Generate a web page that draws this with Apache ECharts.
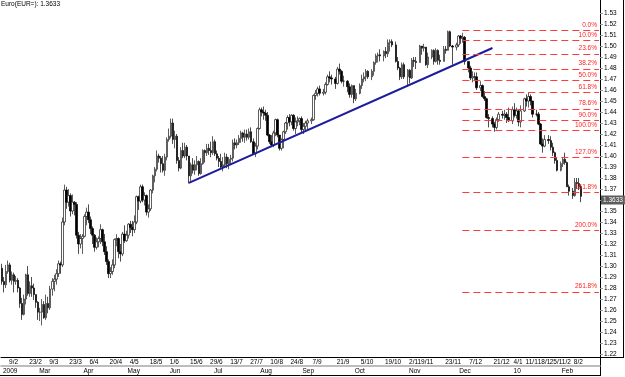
<!DOCTYPE html>
<html>
<head>
<meta charset="utf-8">
<title>Euro(EUR=)</title>
<script src="https://cdn.jsdelivr.net/npm/echarts@6/dist/echarts.min.js"></script>
<style>
  html, body { margin: 0; padding: 0; background: #fff; }
  #chart { width: 625px; height: 377px; }
</style>
</head>
<body>
<div id="chart"></div>
<script>
// calendar of the bars: weekdays, plus the short Sunday sessions from Sep 2009
var firstDay = '2009-02-04';
var lastDay = '2010-02-12';
var sundaySessionsFrom = '2009-09-06';
var holidays = ['2009-12-25', '2010-01-01'];
var padSlots = 9;

// daily EUR= prices, one value per trading day, month by month
var opens = [
  1.2980,1.2860,1.2830,1.2950,1.3010,1.2870,1.2920,1.2860,1.2870,1.2800,1.2660,1.2560,1.2700,1.2920,1.2750,1.2820,1.2800,1.2740,
  1.2670,1.2580,1.2580,1.2650,1.2530,1.2660,1.2620,1.2790,1.2860,1.2880,1.2930,1.3020,1.3010,1.3400,1.3690,1.3580,1.3640,1.3500,1.3580,1.3560,1.3280,1.3200,
  1.3250,1.3270,1.3450,1.3490,1.3420,1.3340,1.3280,1.3170,1.3220,1.3250,1.3330,1.3220,1.3130,1.3040,1.2930,1.2950,1.3010,1.3240,1.3250,1.3130,1.3110,1.3290,
  1.3230,1.3280,1.3380,1.3350,1.3330,1.3400,1.3630,1.3590,1.3720,1.3600,1.3640,1.3490,1.3520,1.3690,1.3820,1.3880,1.4000,1.3980,1.3930,1.3870,1.3990,
  1.4150,1.4180,1.4300,1.4150,1.4180,1.3960,1.3890,1.4050,1.4000,1.4080,1.4000,1.3820,1.3920,1.3870,1.3920,1.3950,1.3840,1.3930,1.4050,1.4030,1.4070,1.4050,
  1.4030,1.4130,1.4020,1.3980,1.3950,1.3900,1.3920,1.3990,1.3930,1.3970,1.3980,1.4120,1.4100,1.4120,1.4160,1.4210,1.4170,1.4200,1.4170,1.4220,1.4130,1.4020,1.4090,
  1.4250,1.4420,1.4400,1.4390,1.4370,1.4190,1.4130,1.4100,1.4210,1.4330,1.4190,1.4070,1.4150,1.4220,1.4300,1.4350,1.4310,1.4370,1.4250,1.4310,1.4320,
  1.4340,1.4240,1.4270,1.4300,1.4320,1.4330,1.4550,1.4570,1.4610,1.4570,1.4580,1.4650,1.4720,1.4710,1.4700,1.4660,1.4790,1.4770,1.4680,1.4680,1.4630,1.4560,
  1.4640,1.4520,1.4570,1.4640,1.4700,1.4720,1.4770,1.4720,1.4770,1.4850,1.4910,1.4920,1.4910,1.4950,1.4930,1.5030,1.5040,1.5010,1.4860,1.4800,1.4720,1.4830,
  1.4720,1.4780,1.4710,1.4870,1.4860,1.4850,1.5000,1.4980,1.4990,1.4830,1.4900,1.4960,1.4860,1.4960,1.4870,1.4860,1.4970,1.4960,1.5130,1.5000,1.4990,
  1.5010,1.5090,1.5070,1.5080,1.4860,1.4800,1.4710,1.4720,1.4720,1.4620,1.4640,1.4540,1.4520,1.4350,1.4340,1.4290,1.4260,1.4330,1.4380,1.4370,1.4380,1.4350,
  1.4320,1.4420,1.4370,1.4410,1.4310,1.4410,1.4520,1.4500,1.4540,1.4500,1.4380,1.4380,1.4290,1.4110,1.4090,1.4150,1.4140,1.4080,1.4030,1.3960,
  1.3870,1.3930,1.3970,1.3940,1.3720,1.3680,1.3640,1.3760,1.3750,1.3720
];
var highs = [
  1.3020,1.2900,1.3010,1.3050,1.3030,1.2950,1.2940,1.2910,1.2890,1.2810,1.2710,1.2740,1.2930,1.3000,1.2860,1.2900,1.2840,1.2740,
  1.2680,1.2620,1.2700,1.2680,1.2740,1.2720,1.2820,1.2890,1.2920,1.2970,1.3050,1.3040,1.3440,1.3740,1.3720,1.3700,1.3660,1.3650,1.3590,1.3580,1.3310,1.3290,
  1.3290,1.3470,1.3530,1.3560,1.3450,1.3360,1.3290,1.3260,1.3270,1.3380,1.3340,1.3290,1.3180,1.3060,1.2990,1.3060,1.3250,1.3290,1.3260,1.3200,1.3310,1.3370,
  1.3320,1.3390,1.3410,1.3410,1.3460,1.3640,1.3640,1.3740,1.3740,1.3670,1.3650,1.3560,1.3700,1.3830,1.3900,1.4050,1.4020,1.4000,1.4000,1.4020,1.4170,
  1.4250,1.4340,1.4340,1.4230,1.4200,1.3990,1.4080,1.4120,1.4120,1.4100,1.4000,1.3940,1.3980,1.3960,1.4000,1.3960,1.3980,1.4060,1.4060,1.4110,1.4110,1.4130,
  1.4180,1.4150,1.4050,1.4000,1.4020,1.3990,1.4030,1.4020,1.3990,1.4010,1.4150,1.4160,1.4150,1.4190,1.4230,1.4220,1.4240,1.4240,1.4250,1.4260,1.4160,1.4120,1.4260,
  1.4440,1.4440,1.4450,1.4420,1.4400,1.4200,1.4190,1.4230,1.4340,1.4340,1.4190,1.4160,1.4230,1.4310,1.4370,1.4380,1.4380,1.4380,1.4350,1.4360,1.4350,
  1.4360,1.4300,1.4320,1.4340,1.4350,1.4560,1.4600,1.4630,1.4640,1.4610,1.4670,1.4740,1.4770,1.4740,1.4720,1.4810,1.4840,1.4780,1.4730,1.4690,1.4660,1.4650,
  1.4640,1.4610,1.4660,1.4740,1.4760,1.4790,1.4780,1.4790,1.4860,1.4930,1.4940,1.4970,1.4960,1.4990,1.5060,1.5060,1.5060,1.5040,1.4900,1.4810,1.4850,1.4850,
  1.4790,1.4790,1.4890,1.4900,1.4900,1.5010,1.5000,1.5020,1.4990,1.4940,1.4970,1.4970,1.4980,1.4970,1.4920,1.5000,1.5000,1.5140,1.5140,1.5010,1.5030,
  1.5100,1.5100,1.5120,1.5090,1.4860,1.4820,1.4770,1.4760,1.4760,1.4680,1.4650,1.4590,1.4530,1.4380,1.4360,1.4310,1.4350,1.4400,1.4410,1.4420,1.4400,1.4440,
  1.4450,1.4480,1.4440,1.4420,1.4460,1.4530,1.4560,1.4580,1.4560,1.4500,1.4420,1.4400,1.4300,1.4160,1.4190,1.4190,1.4180,1.4120,1.4040,1.3990,
  1.3950,1.3990,1.4030,1.3950,1.3740,1.3710,1.3800,1.3800,1.3800,1.3740
];
var lows = [
  1.2830,1.2760,1.2800,1.2930,1.2850,1.2830,1.2760,1.2830,1.2760,1.2620,1.2510,1.2550,1.2650,1.2730,1.2720,1.2720,1.2690,1.2620,
  1.2510,1.2500,1.2460,1.2520,1.2510,1.2570,1.2600,1.2730,1.2770,1.2830,1.2900,1.2930,1.2990,1.3370,1.3520,1.3540,1.3450,1.3470,1.3460,1.3250,1.3110,1.3160,
  1.3110,1.3260,1.3370,1.3390,1.3290,1.3200,1.3130,1.3150,1.3170,1.3200,1.3180,1.3100,1.3010,1.2890,1.2890,1.2920,1.2980,1.3180,1.3070,1.3040,1.3090,1.3210,
  1.3220,1.3250,1.3300,1.3270,1.3300,1.3380,1.3510,1.3570,1.3580,1.3550,1.3460,1.3440,1.3500,1.3660,1.3760,1.3860,1.3940,1.3850,1.3850,1.3820,1.3960,
  1.4130,1.4160,1.4110,1.4070,1.3930,1.3860,1.3880,1.3980,1.3980,1.3960,1.3750,1.3760,1.3840,1.3830,1.3870,1.3820,1.3830,1.3920,1.3940,1.4000,1.4010,1.3990,
  1.4010,1.4000,1.3960,1.3900,1.3880,1.3860,1.3900,1.3890,1.3880,1.3920,1.3950,1.4060,1.4070,1.4100,1.4120,1.4130,1.4120,1.4140,1.4150,1.4120,1.4010,1.3990,1.4060,
  1.4240,1.4360,1.4330,1.4320,1.4180,1.4110,1.4080,1.4080,1.4180,1.4170,1.4050,1.4050,1.4070,1.4200,1.4240,1.4270,1.4280,1.4230,1.4200,1.4270,1.4280,
  1.4210,1.4200,1.4220,1.4240,1.4290,1.4320,1.4510,1.4540,1.4550,1.4550,1.4560,1.4640,1.4670,1.4650,1.4610,1.4650,1.4740,1.4660,1.4630,1.4580,1.4530,1.4530,
  1.4480,1.4500,1.4560,1.4610,1.4670,1.4680,1.4700,1.4690,1.4730,1.4830,1.4850,1.4860,1.4860,1.4890,1.4900,1.4950,1.4990,1.4850,1.4780,1.4690,1.4700,1.4700,
  1.4630,1.4660,1.4700,1.4810,1.4790,1.4850,1.4920,1.4950,1.4820,1.4800,1.4880,1.4830,1.4850,1.4830,1.4830,1.4860,1.4930,1.4960,1.4990,1.4830,1.4960,
  1.4990,1.5020,1.5030,1.4830,1.4760,1.4690,1.4670,1.4680,1.4600,1.4590,1.4530,1.4500,1.4340,1.4260,1.4260,1.4220,1.4240,1.4310,1.4340,1.4330,1.4300,1.4310,
  1.4290,1.4350,1.4340,1.4270,1.4260,1.4400,1.4450,1.4440,1.4460,1.4350,1.4360,1.4280,1.4100,1.4030,1.4080,1.4110,1.4050,1.4000,1.3930,1.3860,
  1.3860,1.3900,1.3920,1.3720,1.3640,1.3610,1.3630,1.3700,1.3690,1.3580
];
var closes = [
  1.2860,1.2830,1.2950,1.3010,1.2870,1.2920,1.2860,1.2870,1.2800,1.2660,1.2560,1.2700,1.2920,1.2750,1.2820,1.2800,1.2740,1.2670,
  1.2580,1.2580,1.2650,1.2530,1.2660,1.2620,1.2790,1.2860,1.2880,1.2930,1.3020,1.3010,1.3400,1.3690,1.3580,1.3640,1.3500,1.3580,1.3560,1.3280,1.3200,1.3250,
  1.3270,1.3450,1.3490,1.3420,1.3340,1.3280,1.3170,1.3220,1.3250,1.3330,1.3220,1.3130,1.3040,1.2930,1.2950,1.3010,1.3240,1.3250,1.3130,1.3110,1.3290,1.3230,
  1.3280,1.3380,1.3350,1.3330,1.3400,1.3630,1.3590,1.3720,1.3600,1.3640,1.3490,1.3520,1.3690,1.3820,1.3880,1.4000,1.3980,1.3930,1.3870,1.3990,1.4150,
  1.4180,1.4300,1.4150,1.4180,1.3960,1.3890,1.4050,1.4000,1.4080,1.4000,1.3820,1.3920,1.3870,1.3920,1.3950,1.3840,1.3930,1.4050,1.4030,1.4070,1.4050,1.4030,
  1.4130,1.4020,1.3980,1.3950,1.3900,1.3920,1.3990,1.3930,1.3970,1.3980,1.4120,1.4100,1.4120,1.4160,1.4210,1.4170,1.4200,1.4170,1.4220,1.4130,1.4020,1.4090,1.4250,
  1.4420,1.4400,1.4390,1.4370,1.4190,1.4130,1.4100,1.4210,1.4330,1.4190,1.4070,1.4150,1.4220,1.4300,1.4350,1.4310,1.4370,1.4250,1.4310,1.4320,1.4340,
  1.4240,1.4270,1.4300,1.4320,1.4330,1.4550,1.4570,1.4610,1.4570,1.4580,1.4650,1.4720,1.4710,1.4700,1.4660,1.4790,1.4770,1.4680,1.4680,1.4630,1.4560,1.4640,
  1.4520,1.4570,1.4640,1.4700,1.4720,1.4770,1.4720,1.4770,1.4850,1.4910,1.4920,1.4910,1.4950,1.4930,1.5030,1.5040,1.5010,1.4860,1.4800,1.4720,1.4830,1.4720,
  1.4780,1.4710,1.4870,1.4860,1.4850,1.5000,1.4980,1.4990,1.4830,1.4900,1.4960,1.4860,1.4960,1.4870,1.4860,1.4970,1.4960,1.5130,1.5000,1.4990,1.5010,
  1.5090,1.5070,1.5080,1.4860,1.4800,1.4710,1.4720,1.4720,1.4620,1.4640,1.4540,1.4520,1.4350,1.4340,1.4290,1.4260,1.4330,1.4380,1.4370,1.4380,1.4350,1.4320,
  1.4420,1.4370,1.4410,1.4310,1.4410,1.4520,1.4500,1.4540,1.4500,1.4380,1.4380,1.4290,1.4110,1.4090,1.4150,1.4140,1.4080,1.4030,1.3960,1.3870,
  1.3930,1.3970,1.3940,1.3720,1.3680,1.3640,1.3760,1.3750,1.3720,1.3633
];

// axis labels
var dateTicks = ['2009-02-09','2009-02-23','2009-03-09','2009-03-23','2009-04-06','2009-04-20','2009-05-04','2009-05-18',
  '2009-06-01','2009-06-15','2009-06-29','2009-07-13','2009-07-27','2009-08-10','2009-08-24','2009-09-07','2009-09-21',
  '2009-10-05','2009-10-19','2009-11-02','2009-11-09','2009-11-23','2009-12-07','2009-12-21','2010-01-04','2010-01-11',
  '2010-01-18','2010-01-25','2010-02-01','2010-02-08'];
var monthLabels = ['2009','Mar','Apr','May','Jun','Jul','Aug','Sep','Oct','Nov','Dec','10','Feb'];

// drawing tools
var fibHigh = 1.5140;
var fibLow = 1.4232;
var fibRatios = [0, 0.1, 0.236, 0.382, 0.5, 0.618, 0.786, 0.9, 1, 1.27, 1.618, 2, 2.618];
var fibFrom = '2009-12-03';
var trendLine = [['2009-06-15', 1.3755], ['2009-12-21', 1.4982]];

var FONT = "'Liberation Sans', Arial, sans-serif";
var FS = 6.5;

function iso(d) { return d.toISOString().slice(0, 10); }

var cats = [], tradeDays = [];
for (var t = Date.parse(firstDay); t <= Date.parse(lastDay); t += 86400000) {
  var d = new Date(t), s = iso(d), wd = d.getUTCDay();
  if (wd === 6 || holidays.indexOf(s) >= 0) continue;
  if (wd === 0) { if (s >= sundaySessionsFrom) cats.push(s); continue; }
  cats.push(s);
  tradeDays.push(s);
}
if (opens.length !== tradeDays.length || highs.length !== tradeDays.length ||
    lows.length !== tradeDays.length || closes.length !== tradeDays.length) {
  throw new Error('length mismatch ' + tradeDays.length + ' ' + opens.length + ' ' + highs.length + ' ' + lows.length + ' ' + closes.length);
}

var candleData = cats.map(function (c) {
  var i = tradeDays.indexOf(c);
  return i < 0 ? '-' : [opens[i], closes[i], lows[i], highs[i]];
});
for (var p = 0; p < padSlots; p++) { cats.push('pad' + p); candleData.push('-'); }
var lastCat = cats[cats.length - 1];
var lastClose = closes[closes.length - 1];

// first trading day of every month carries the month label
var monthStarts = {};
var m = 0;
tradeDays.forEach(function (s, i) {
  if (i === 0 || s.slice(0, 7) !== tradeDays[i - 1].slice(0, 7)) monthStarts[s] = monthLabels[m++];
});

function isDateTick(i, v) { return dateTicks.indexOf(v) >= 0; }
function isMonthTick(i, v) { return monthStarts[v] !== undefined && i > 0; }

var fibLines = fibRatios.map(function (r) {
  var lvl = fibHigh - r * (fibHigh - fibLow);
  return [
    { coord: [fibFrom, lvl], name: (r * 100).toFixed(1) + '%' },
    { coord: [lastCat, lvl] }
  ];
});
// last price tag on the price scale
fibLines.push({
  yAxis: lastClose,
  lineStyle: { color: 'rgba(0,0,0,0)' },
  label: {
    position: 'end', distance: 1, formatter: lastClose.toFixed(4),
    backgroundColor: '#5c5c5c', color: '#fff', padding: [1, 2, 1, 2],
    fontSize: FS, fontFamily: FONT
  }
});

var chart = echarts.init(document.getElementById('chart'));
chart.setOption({
  animation: false,
  backgroundColor: '#fff',
  title: {
    text: 'Euro(EUR=): ' + lastClose.toFixed(4),
    left: 1, top: 1, padding: 0,
    textStyle: { fontSize: FS, fontWeight: 'normal', color: '#000', fontFamily: FONT }
  },
  grid: { left: 0, right: 25, top: 13, bottom: 23 },
  xAxis: [
    {
      type: 'category', data: cats, position: 'bottom', offset: 3,
      axisLine: { lineStyle: { color: '#000', width: 1 } },
      axisTick: { alignWithLabel: true, interval: isDateTick, length: 6, lineStyle: { color: '#222' } },
      axisLabel: {
        interval: isDateTick, align: 'left', margin: 1, padding: [1, 0, 0, 1],
        fontSize: FS, color: '#000', fontFamily: FONT,
        formatter: function (v) { var a = v.split('-'); return (+a[2]) + '/' + (+a[1]); }
      },
      splitLine: { show: false }
    },
    {
      type: 'category', data: cats, position: 'bottom', offset: 12,
      axisLine: { lineStyle: { color: '#a8a8a8', width: 1.5 } },
      axisTick: { alignWithLabel: true, interval: isMonthTick, length: 6, lineStyle: { color: '#222' } },
      axisLabel: {
        interval: function (i, v) { return monthStarts[v] !== undefined; },
        align: 'left', margin: 1, padding: [1, 0, 0, 1],
        fontSize: FS, color: '#000', fontFamily: FONT,
        formatter: function (v) { return monthStarts[v] || ''; }
      },
      splitLine: { show: false }
    }
  ],
  yAxis: {
    type: 'value', position: 'right', min: 1.22, max: 1.53, interval: 0.01,
    axisLine: { show: true, lineStyle: { color: '#000' } },
    axisTick: { show: true, length: 3, lineStyle: { color: '#999' } },
    axisLabel: {
      margin: 4, padding: [6, 0, 0, 0], fontSize: FS, color: '#000', fontFamily: FONT,
      formatter: function (v) { return v.toFixed(2); }
    },
    splitLine: { show: false }
  },
  series: [
    {
      type: 'candlestick',
      data: candleData,
      barWidth: 2,
      itemStyle: { color: '#fff', color0: '#000', borderColor: '#1a1a1a', borderColor0: '#000', borderWidth: 0.7 },
      markLine: {
        symbol: 'none', silent: true,
        lineStyle: { color: '#ff3b3b', type: [7, 4], width: 1 },
        label: { position: 'insideEndTop', formatter: '{b}', color: '#ff2020', fontSize: FS, fontFamily: FONT, distance: 2 },
        data: fibLines
      }
    },
    {
      type: 'line',
      data: trendLine,
      symbol: 'none',
      lineStyle: { color: '#1c1c9c', width: 2 }
    }
  ],
  graphic: [
    { type: 'line', silent: true, shape: { x1: 600.5, y1: 0, x2: 600.5, y2: 376 }, style: { stroke: '#000', lineWidth: 1 } },
    { type: 'line', silent: true, shape: { x1: 623.5, y1: 0, x2: 623.5, y2: 357.5 }, style: { stroke: '#000', lineWidth: 1 } },
    { type: 'line', silent: true, shape: { x1: 600, y1: 357.5, x2: 624, y2: 357.5 }, style: { stroke: '#000', lineWidth: 1 } },
    { type: 'line', silent: true, shape: { x1: 0, y1: 375.5, x2: 601, y2: 375.5 }, style: { stroke: '#000', lineWidth: 1 } }
  ]
});
</script>
</body>
</html>
